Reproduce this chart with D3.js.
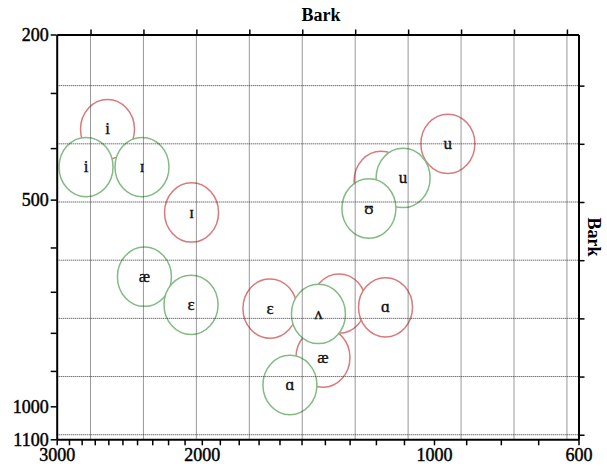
<!DOCTYPE html>
<html>
<head>
<meta charset="utf-8">
<script src="https://cdn.jsdelivr.net/npm/d3@7"></script>
<style>
  html, body { margin: 0; padding: 0; background: #fff; }
  svg { display: block; font-family: "Liberation Serif", "Times New Roman", serif; }
</style>
</head>
<body>
<svg id="chart" width="607" height="468"></svg>
<script>
// F2 (horizontal) and F1 (vertical) tick frequencies in Hz, with the labelled ones
const f2Ticks = [3000, 2900, 2800, 2700, 2600, 2500, 2400, 2300, 2200, 2100, 2000,
                 1900, 1800, 1700, 1600, 1500, 1400, 1300, 1200, 1100, 1000, 900, 800, 700, 600];
const f2Labels = [3000, 2000, 1000, 600];
const f1Ticks = [200, 300, 400, 500, 600, 700, 800, 900, 1000, 1100];
const f1Labels = [200, 500, 1000, 1100];

// Bark grid lines
const barkGridF2 = [6, 7, 8, 9, 10, 11, 12, 13, 14, 15];
const barkGridF1 = [3, 4, 5, 6, 7, 8, 9];

// Vowel means (Hz), red set
const redVowels = ["i", "ɪ", "ɛ", "ʌ", "ɑ", "æ", "ʊ", "u"];
const redF1 = [365, 526, 740, 728, 737, 864, 463, 392];
const redF2 = [2606, 2059, 1645, 1342, 1165, 1408, 1181, 956];

// Vowel means (Hz), green set
const greenVowels = ["i", "ɪ", "æ", "ɛ", "u", "ʊ", "ʌ", "ɑ"];
const greenF1 = [436, 436, 665, 731, 457, 518, 753, 939];
const greenF2 = [2766, 2367, 2351, 2062, 1103, 1226, 1427, 1552];

// Ellipse half-size in Bark
const radiusBark = 0.51;

const redColor = "#d97a7c";
const greenColor = "#82bb84";

// Hz -> Bark
const bark = f => 7 * Math.asinh(f / 650);

const svg = d3.select("#chart");
const plotLeft = 56.7, plotRight = 578.5, plotTop = 34.5, plotBottom = 439.3;

const x = d3.scaleLinear().domain([bark(3000), bark(600)]).range([plotLeft, plotRight]);
const y = d3.scaleLinear().domain([bark(200), bark(1100)]).range([plotTop, plotBottom]);

const rx = Math.abs(x(10 + radiusBark) - x(10));
const ry = Math.abs(y(5 + radiusBark) - y(5));

const series = [
  { names: redVowels, f1: redF1, f2: redF2, color: redColor },
  { names: greenVowels, f1: greenF1, f2: greenF2, color: greenColor }
];

// Ellipses with their labels, drawn in order so later ones cover earlier ones
const marks = svg.append("g");
series.forEach(s => {
  s.names.forEach((v, i) => {
    const g = marks.append("g")
      .attr("transform", `translate(${x(bark(s.f2[i]))},${y(bark(s.f1[i]))})`);
    g.append("ellipse")
      .attr("rx", rx).attr("ry", ry)
      .attr("fill", "#fff")
      .attr("stroke", s.color)
      .attr("stroke-width", 1.5);
    g.append("text")
      .attr("text-anchor", "middle")
      .attr("dy", "0.3em")
      .attr("font-size", 17)
      .attr("fill", "#111")
      .attr("stroke", "#111")
      .attr("stroke-width", 0.35)
      .text(v);
  });
});

// Dotted Bark grid
const grid = svg.append("g")
  .attr("stroke", "#333")
  .attr("stroke-width", 1)
  .attr("stroke-dasharray", "1,1");
grid.selectAll("line.v").data(barkGridF2).join("line")
  .attr("class", "v")
  .attr("x1", d => x(d)).attr("x2", d => x(d))
  .attr("y1", plotTop).attr("y2", plotBottom);
grid.selectAll("line.h").data(barkGridF1).join("line")
  .attr("class", "h")
  .attr("y1", d => y(d)).attr("y2", d => y(d))
  .attr("x1", plotLeft).attr("x2", plotRight);

// Axes
const fmtF2 = b => { const f = f2Ticks.find(t => Math.abs(bark(t) - b) < 1e-9); return f2Labels.includes(f) ? f : ""; };
const fmtF1 = b => { const f = f1Ticks.find(t => Math.abs(bark(t) - b) < 1e-9); return f1Labels.includes(f) ? f : ""; };

const axBottom = svg.append("g").attr("transform", `translate(0,${plotBottom})`)
  .call(d3.axisBottom(x).tickValues(f2Ticks.map(bark)).tickFormat(fmtF2).tickSize(6).tickPadding(3).tickSizeOuter(0));
const axLeft = svg.append("g").attr("transform", `translate(${plotLeft},0)`)
  .call(d3.axisLeft(y).tickValues(f1Ticks.map(bark)).tickFormat(fmtF1).tickSize(6).tickPadding(2).tickSizeOuter(0));
const axTop = svg.append("g").attr("transform", `translate(0,${plotTop})`)
  .call(d3.axisTop(x).tickValues(barkGridF2).tickFormat("").tickSize(5).tickSizeOuter(0));
const axRight = svg.append("g").attr("transform", `translate(${plotRight},0)`)
  .call(d3.axisRight(y).tickValues(barkGridF1).tickFormat("").tickSize(6).tickSizeOuter(0));

[axBottom, axLeft, axTop, axRight].forEach(a => {
  a.select(".domain").attr("stroke", "#000").attr("stroke-width", 2);
  a.selectAll(".tick line").attr("stroke", "#000").attr("stroke-width", 1.5);
  a.selectAll(".tick text")
    .attr("font-family", "Liberation Serif, serif")
    .attr("font-size", 18)
    .attr("fill", "#000")
    .attr("stroke", "#000")
    .attr("stroke-width", 0.45);
});

// Axis titles
svg.append("text")
  .attr("x", 321).attr("y", 21)
  .attr("text-anchor", "middle")
  .attr("font-size", 18).attr("font-weight", "bold")
  .text("Bark");
svg.append("text")
  .attr("transform", `translate(588,237) rotate(90)`)
  .attr("text-anchor", "middle")
  .attr("font-size", 18).attr("font-weight", "bold")
  .text("Bark");
</script>
</body>
</html>
